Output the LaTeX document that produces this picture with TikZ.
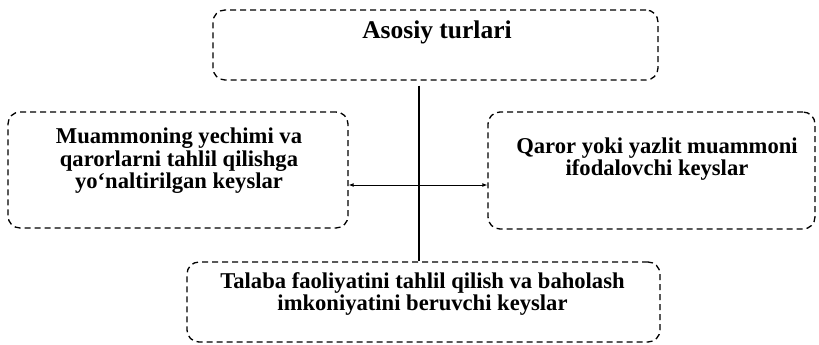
\documentclass[tikz,border=0pt]{standalone}
\usepackage{fontspec}
\setmainfont{Liberation Serif}
\usetikzlibrary{arrows.meta,positioning}
\tikzset{
    card/.style={draw, dash pattern=on 6pt off 4pt, line width=1.3pt, rounded corners=12pt},
    txt/.style={align=center, inner sep=0pt, font=\bfseries\fontsize{22.6}{22.5}\selectfont},
    link/.style={{Latex[length=5pt,width=4pt]}-{Latex[length=5pt,width=4pt]}, line width=0.9pt}
}

\begin{document}
\begin{tikzpicture}[x=1pt, y=-1pt]
    \useasboundingbox (0,0) rectangle (819,345);
    % boxes
    \node[card, minimum width=445pt, minimum height=70pt] (top) at (435.5,45) {};
    \node[card, minimum width=340pt, minimum height=116pt] (left) at (178,170) {};
    \node[card, minimum width=327pt, minimum height=117pt] (right) at (651.5,170.5) {};
    \node[card, minimum width=473pt, minimum height=80pt] (bot) at (423.5,302) {};

    % texts
    \node[txt, font=\bfseries\fontsize{25.5}{25}\selectfont] (toptxt) at (437,32) {Asosiy turlari};
    \node[txt] (lefttxt) at (179,161) {Muammoning yechimi va\\qarorlarni tahlil qilishga\\yo‘naltirilgan keyslar};
    \node[txt] (righttxt) at (657,159) {Qaror yoki yazlit muammoni\\ifodalovchi keyslar};
    \node[txt] (bottxt) at (422.5,294) {Talaba faoliyatini tahlil qilish va baholash\\imkoniyatini beruvchi keyslar};

    \coordinate (hub) at (419,185);
    \draw[line width=1.6pt] ([yshift=-5pt]top.south -| hub) -- (bot.north -| hub);
    \draw[link] (left.east |- hub) -- (right.west |- hub);
\end{tikzpicture}
\end{document}
